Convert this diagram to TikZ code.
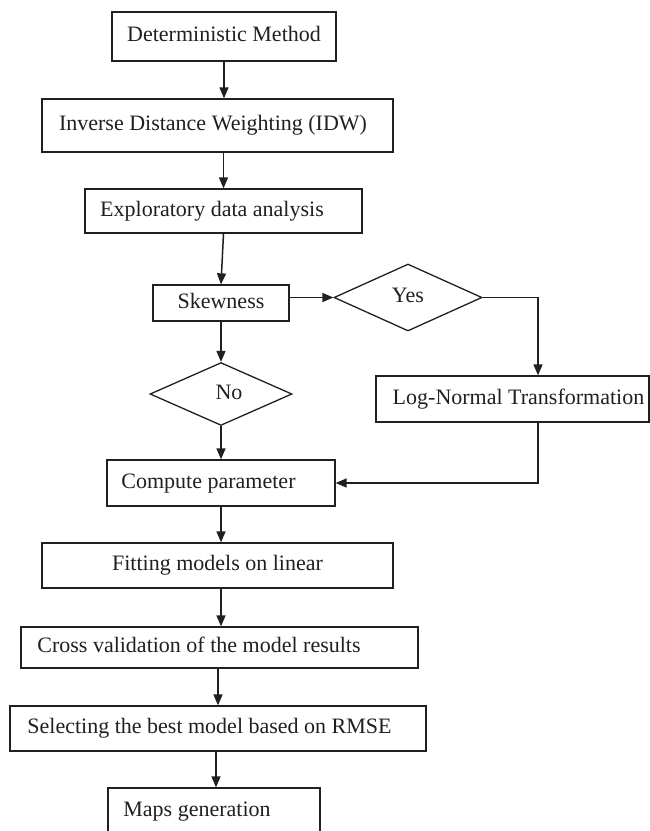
\documentclass[tikz,border=0pt]{standalone}
\usepackage{fontspec}
\setmainfont{Liberation Serif}
\usetikzlibrary{arrows.meta,shapes.geometric}
\definecolor{ink}{RGB}{35,31,32}
\begin{document}
\begin{tikzpicture}[x=1pt,y=-1pt,
  box/.style={draw=ink, line width=1.3pt, rectangle, inner sep=0pt,
    text height=15pt, text depth=5pt, font=\fontsize{22}{26}\selectfont, text=ink},
  dia/.style={draw=ink, line width=1.3pt, diamond, inner sep=0pt,
    text height=15pt, text depth=5pt, font=\fontsize{22}{26}\selectfont, text=ink},
  arr/.style={draw=ink, line width=1.5pt, -{Triangle[length=11pt,width=9pt]}}]
\useasboundingbox (0,0) rectangle (650,831);
\clip (0,0) rectangle (650,831);
\fill[white] (0,0) rectangle (650,831);

\node[box, minimum width=224pt, minimum height=49pt] (det) at (224,36.5) {Deterministic Method};
\node[box, minimum width=351pt, minimum height=53pt] (idw) at (217.5,125.5) {Inverse Distance Weighting (IDW)\kern9pt};
\node[box, minimum width=277pt, minimum height=44pt] (expl) at (223.5,211) {Exploratory data analysis\kern23pt};
\node[box, minimum width=136pt, minimum height=36pt] (skew) at (221,303) {Skewness};
\node[dia, minimum width=148pt, minimum height=67pt] (yes) at (408,297.5) {Yes};
\node[dia, minimum width=142pt, minimum height=56pt] (no) at (221,394) {\kern16pt No};
\node[box, minimum width=273pt, minimum height=46pt] (logn) at (512.5,399) {\kern12pt Log-Normal Transformation};
\node[box, minimum width=228pt, minimum height=46pt] (comp) at (221,483) {Compute parameter\kern25pt};
\node[box, minimum width=351pt, minimum height=45pt] (fit) at (217.5,565.5) {Fitting models on linear};
\node[box, minimum width=397pt, minimum height=41pt] (cross) at (219.5,647.5) {Cross validation of the model results\kern41pt};
\node[box, minimum width=416pt, minimum height=45pt] (sel) at (218,728.5) {Selecting the best model based on RMSE\kern17pt};
\node[box, minimum width=212pt, minimum height=47pt] (maps) at (214,811.5) {Maps generation\kern34pt};

\coordinate (rx) at (538,0);

\draw[arr] (det.south) -- (det.south |- idw.north);
\draw[arr] (idw.south -| expl.north) -- (expl.north);
\draw[arr] (expl.south) -- (skew.north);
\draw[arr] (skew.east |- yes.west) -- (yes.west);
\draw[arr] (yes.east) -| (rx |- logn.north);
\draw[arr] (skew.south) -- (no.north);
\draw[arr] (no.south) -- (comp.north);
\draw[arr] (rx |- logn.south) |- (comp.east);
\draw[arr] (comp.south) -- (comp.south |- fit.north);
\draw[arr] ([xshift=3.5pt]fit.south) -- ([xshift=3.5pt]fit.south |- cross.north);
\draw[arr] ([xshift=-1.5pt]cross.south) -- ([xshift=-1.5pt]cross.south |- sel.north);
\draw[arr] ([xshift=-2pt]sel.south) -- ([xshift=-2pt]sel.south |- maps.north);
\end{tikzpicture}
\end{document}
